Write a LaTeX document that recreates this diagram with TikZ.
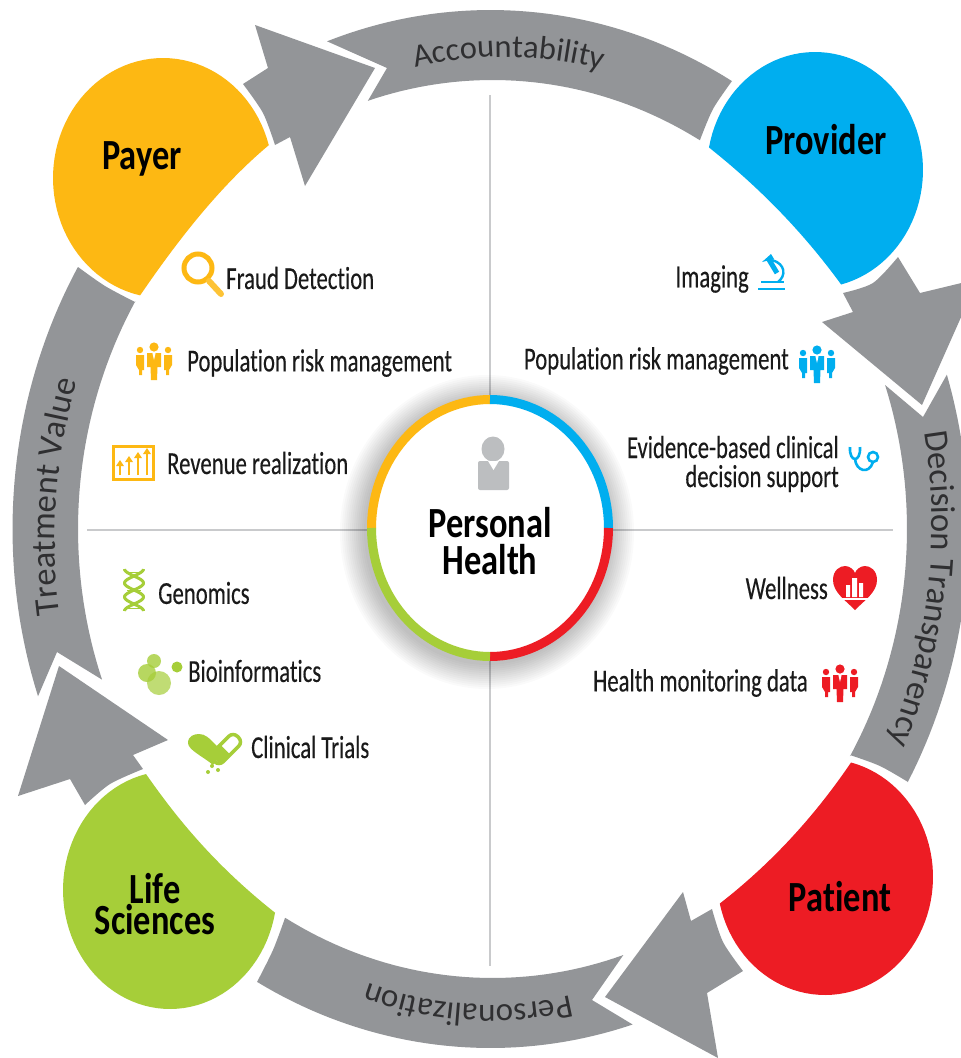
\documentclass[tikz,border=0pt]{standalone}
\usepackage{fontspec}
\usetikzlibrary{decorations.text}
\setmainfont{Carlito}
\newfontfamily\labf[FakeStretch=0.71,FakeBold=0.25,Ligatures=CommonOff]{Carlito}
\newfontfamily\headf[FakeStretch=0.80,Ligatures=CommonOff]{Carlito}
\newfontfamily\bandf[Ligatures=CommonOff]{Carlito}
\definecolor{bandgray}{HTML}{939598}
\definecolor{divgray}{HTML}{C9CACC}
\definecolor{orangeC}{HTML}{FDB813}
\definecolor{blueC}{HTML}{00AEEF}
\definecolor{redC}{HTML}{ED1C24}
\definecolor{greenC}{HTML}{A6CE39}
\definecolor{iconG}{HTML}{BCBEC0}
\definecolor{inkC}{HTML}{1A1A1A}
\definecolor{bandink}{HTML}{2F2F31}
\newcommand{\bandA}{\bandf\fontsize{32.5}{33}\selectfont\color{bandink}}
\newcommand{\bandB}{\bandf\fontsize{34.5}{35}\selectfont\color{bandink}}
\newcommand{\bandC}{\bandf\fontsize{33}{33}\selectfont\color{bandink}}
\newcommand{\peopleicon}[3]{%
  \begin{scope}[shift={(#1,#2)},fill=#3]
    \fill (0,-14) circle (4.6);
    \fill (-7,-8) -- (7,-8) -- (7,6) -- (3.5,6) -- (3,19) -- (-3,19) -- (-3.5,6) -- (-7,6) -- cycle;
    \fill[white] (-1.6,-8) -- (1.6,-8) -- (0,-1) -- cycle;
    \fill (-14,-11) circle (3.2);
    \fill (14,-11) circle (3.2);
    \fill (-18,-6) -- (-10,-6) -- (-10,9) -- (-12,9) -- (-12,14) -- (-15,14) -- (-15,9) -- (-18,4) -- cycle;
    \fill (18,-6) -- (10,-6) -- (10,9) -- (12,9) -- (12,14) -- (15,14) -- (15,9) -- (18,4) -- cycle;
  \end{scope}}
\tikzset{
  lab/.style={font=\labf\fontsize{32}{29}\selectfont,text=inkC,inner sep=0pt},
  head/.style={font=\headf\bfseries\fontsize{43}{34}\selectfont,text=black,inner sep=0pt,align=center},
  divider/.style={draw=divgray,line width=2.8pt},
  bandpath/.style={decorate,decoration={text along path,text align={center},text={#1}}},
  ringseg/.style={line width=9pt}
}
\begin{document}
\begin{tikzpicture}[x=1pt,y=-1pt]
\clip (0,0) rectangle (961,1058);
\fill[white] (0,0) rectangle (961,1058);

% dividers
\coordinate (vt) at (490,95); \coordinate (vb) at (490,966);
\coordinate (hl) at (87,530); \coordinate (hr) at (893,530);
\draw[divider] (vt) -- (vb);
\draw[divider] (hl) -- (hr);

% bands
\fill[bandgray] plot[domain=250:300.3,samples=40] ({490.5+478*cos(\x)},{529+519*sin(\x)})
  -- plot[smooth] coordinates {(732,81) (713,109) (700,140)}
  -- plot[domain=300:252.5,samples=40] ({492.5+414.5*cos(\x)},{529+449*sin(\x)})
  -- (387,68) -- cycle;
\fill[bandgray] plot[domain=-17.3:29.2,samples=40] ({490.5+478*cos(\x)},{529+519*sin(\x)})
  -- plot[smooth] coordinates {(908,782) (880,766) (850,755)}
  -- plot[domain=30.4:-18.7,samples=40] ({492.5+414.5*cos(\x)},{529+449*sin(\x)})
  -- (923,417) -- cycle;
\fill[bandgray] plot[domain=72.7:119.2,samples=40] ({490.5+478*cos(\x)},{529+519*sin(\x)})
  -- plot[smooth] coordinates {(257,982) (273,950) (285,918)}
  -- plot[domain=120:71.6,samples=40] ({492.5+414.5*cos(\x)},{529+449*sin(\x)})
  -- (592,1000) -- cycle;
\fill[bandgray] plot[domain=161.2:210.3,samples=40] ({490.5+478*cos(\x)},{529+519*sin(\x)})
  -- plot[smooth] coordinates {(78,267) (105,286) (135,302)}
  -- plot[domain=210.5:160.4,samples=40] ({492.5+414.5*cos(\x)},{529+449*sin(\x)})
  -- (57,652) -- cycle;

% arrows
\fill[bandgray] (375,68) -- (255,25) -- (268,68) -- (243,84)
  -- plot[smooth] coordinates {(243,84) (263,113) (275,145)}
  -- (290,137) -- (305,186) -- cycle;
\fill[bandgray] (922,405) -- (822,322) -- (853,312) -- (843,293)
  -- plot[smooth] coordinates {(843,293) (873,283) (898,257)}
  -- (920,293) -- (978,279) -- cycle;
\fill[bandgray] (605,997) -- (683,892) -- (691,921) -- (712,909)
  -- plot[smooth] coordinates {(712,909) (723,942) (743,971)}
  -- (707,993) -- (718,1058) -- cycle;
\fill[bandgray] (59,666) -- (168,740) -- (133,755) -- (143,769)
  -- plot[smooth] coordinates {(143,769) (110,784) (85,805)}
  -- (70,779) -- (18,796) -- cycle;

% blobs
\fill[orangeC] plot[domain=-16:-258,samples=70] ({163+110*cos(\x)},{178+120*sin(\x)})
  .. controls (178,240) and (220,186) .. (269,145) -- cycle;
\fill[blueC] plot[domain=191:436,samples=70] ({815+108*cos(\x)},{170+118*sin(\x)})
  .. controls (800,228) and (755,184) .. (709,147.5) -- cycle;
\fill[redC] plot[domain=-76:167,samples=70] ({825+108*cos(\x)},{877+118*sin(\x)})
  .. controls (768,866) and (812,820) .. (851,762.5) -- cycle;
\fill[greenC] plot[domain=257:11,samples=70] ({170+107*cos(\x)},{890+119*sin(\x)})
  .. controls (216,866) and (178,820) .. (146,774) -- cycle;

% band labels
\path[bandpath={|\bandA|Accountability}] plot[domain=250:291,samples=50] ({505+420*cos(\x)},{525+468*sin(\x)});
\path[bandpath={|\bandB|Decision Transparency}] plot[domain=-14:29,samples=60] ({490+442*cos(\x)},{525+505*sin(\x)});
\path[bandpath={|\bandC|Personalization}] plot[domain=70:116,samples=50] ({490+410*cos(\x)},{525+480*sin(\x)});
\path[bandpath={|\bandB|Treatment Value}] plot[domain=167:203,samples=50] ({490+435*cos(\x)},{540+500*sin(\x)});

% centre: shadow and ring
\foreach \r in {0,2,...,24} {
  \fill[black,opacity=0.02] (487,532) ellipse ({123+\r} and {133+\r});
}
\fill[white] (490,528) ellipse (120 and 130);
\draw[ringseg,orangeC] plot[domain=180:270,samples=30] ({490+118.5*cos(\x)},{528+128.5*sin(\x)});
\draw[ringseg,blueC]   plot[domain=270:360,samples=30] ({490+118.5*cos(\x)},{528+128.5*sin(\x)});
\draw[ringseg,redC]    plot[domain=0:90,samples=30]    ({490+118.5*cos(\x)},{528+128.5*sin(\x)});
\draw[ringseg,greenC]  plot[domain=90:180,samples=30]  ({490+118.5*cos(\x)},{528+128.5*sin(\x)});
% person icon
\fill[iconG] (493,449) ellipse (11.5 and 12.5);
\fill[iconG,rounded corners=2pt] (478,461) rectangle (509,490);
\fill[white] (488,461) -- (499,461) -- (493.5,470) -- cycle;

% headings
\node[head] (payer) at (142,159) {Payer};
\node[head] (provider) at (826,140) {Provider};
\node[head] (patient) at (840,897) {Patient};
\node[head] (life) at (155,904) {Life\\[-3pt]Sciences};
\node[head] (personal) at (490,541.5) {Personal\\[3pt]Health};

% item labels
\node[lab,anchor=west] (fraud) at (226,278) {Fraud Detection};
\node[lab,anchor=west] (poporange) at (187,363) {Population risk management};
\node[lab,anchor=west] (revenue) at (167,463) {Revenue realization};
\node[lab,anchor=east] (imaging) at (749,279) {Imaging};
\node[lab,anchor=east] (popblue) at (789,361) {Population risk management};
\node[lab,anchor=east,align=right] (evidence) at (839,464) {Evidence-based clinical\\decision support};
\node[lab,anchor=east] (wellness) at (828,588) {Wellness};
\node[lab,anchor=east] (monitor) at (808,683) {Health monitoring data};
\node[lab,anchor=west] (genomics) at (158,593) {Genomics};
\node[lab,anchor=west] (bioinf) at (188,671) {Bioinformatics};
\node[lab,anchor=west] (trials) at (251,747) {Clinical Trials};

% icons: magnifier
\draw[orangeC,line width=5pt] (198,268) circle (14);
\draw[orangeC!85!white,line width=6pt,line cap=round] (209,281) -- (221,294);
% people
\peopleicon{154}{361}{orangeC}
\peopleicon{817}{364}{blueC}
\peopleicon{840}{683}{redC}
% revenue
\draw[orangeC,line width=3pt] (113.5,446.5) rectangle (153,479);
\foreach \ax/\ay in {120/465,129/461,138/457,147/453} {
  \draw[orangeC,line width=2.6pt] (\ax,475) -- (\ax,\ay);
  \fill[orangeC] (\ax-4,\ay+1) -- (\ax,\ay-5) -- (\ax+4,\ay+1) -- cycle;
}
% dna
\draw[greenC,line width=3pt] plot[domain=0:540,samples=50,smooth] ({134+9.5*cos(\x)},{569+\x*0.07778});
\draw[greenC,line width=3pt] plot[domain=0:540,samples=50,smooth] ({134-9.5*cos(\x)},{569+\x*0.07778});
\foreach \ry in {572,590,608} { \draw[greenC,line width=1pt] (127,\ry) -- (141,\ry); }
% bubbles
\fill[greenC,opacity=.8] (154,661) circle (7);
\fill[greenC,opacity=.8] (147,673) circle (9);
\fill[greenC,opacity=.7] (159,683) circle (12);
\fill[greenC] (177,667) circle (5.5);
% heart and capsule
\fill[greenC] (213,765) .. controls (204,757) and (188,750) .. (188,743) .. controls (188,736) and (194,734) .. (199,734) .. controls (205,734) and (209,738) .. (213,742) -- (223,752) -- cycle;
\begin{scope}[rotate around={45:(226,749)}]
  \draw[greenC,line width=3.5pt,rounded corners=6pt] (209,742) rectangle (243,756);
  \fill[greenC] (211,742) rectangle (225,756);
\end{scope}
\fill[greenC] (212,766) circle (2) (208,772) circle (2) (218,770) circle (2);
% microscope
\draw[blueC,line width=2.4pt] (758,289) -- (785,289);
\draw[blueC,line width=2.2pt] (761,282) -- (784,282);
\draw[blueC,line width=5pt] (768,258) -- (777,273);
\draw[blueC,line width=2.4pt] (772,260) .. controls (786,264) and (786,276) .. (778,282);
\fill[blueC] (762,262) -- (771,254) -- (774,259) -- cycle;
% stethoscope
\draw[blueC,line width=2.6pt] (850,447) .. controls (849,463) and (861,463) .. (860,447);
\draw[blueC,line width=2.6pt] (855,459) .. controls (856,471) and (869,475) .. (873,462);
\draw[blueC,line width=2.6pt] (873,457) circle (5);
% heart
\fill[redC] (855,610) .. controls (845,600) and (833,592) .. (833,580) .. controls (833,570) and (840,566) .. (845,566) .. controls (850,566) and (854,570) .. (855,573) .. controls (856,570) and (860,566) .. (865,566) .. controls (870,566) and (877,570) .. (877,580) .. controls (877,592) and (865,600) .. (855,610) -- cycle;
\fill[white] (846,585) rectangle (850,597) (852,578) rectangle (857,597) (859,583) rectangle (863,597);
\draw[white,line width=1.6pt] (841,599) -- (869,599);
\end{tikzpicture}
\end{document}
